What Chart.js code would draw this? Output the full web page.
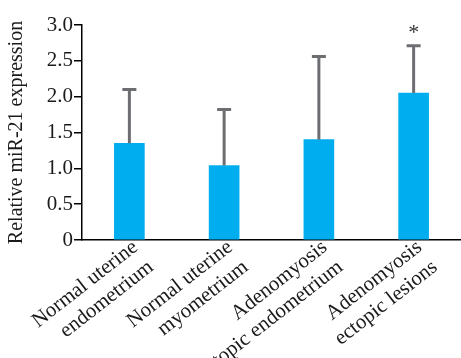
<!DOCTYPE html>
<html>
<head>
<meta charset="utf-8">
<script src="https://cdn.jsdelivr.net/npm/chart.js@4"></script>
<style>
  html, body { margin: 0; padding: 0; background: #fff; overflow: hidden; }
  #wrap { width: 461px; height: 358px; }
</style>
</head>
<body>
<div id="wrap"><canvas id="chart"></canvas></div>
<script>
// data
const groups = [
    ['Normal uterine', 'endometrium'],
    ['Normal uterine', 'myometrium'],
    ['Adenomyosis', 'eutopic endometrium'],
    ['Adenomyosis', 'ectopic lesions']
];
const means = [1.35, 1.04, 1.40, 2.05];
const upperErr = [2.10, 1.82, 2.56, 2.71];
const marks = ['', '', '', '*'];
const yTicks = [0, 0.5, 1.0, 1.5, 2.0, 2.5, 3.0];

const serif = '"Liberation Serif", "DejaVu Serif", serif';

// upper error bars + significance marks
const errorBars = {
    id: 'errorBars',
    afterDatasetsDraw(chart) {
        const ctx = chart.ctx;
        const y = chart.scales.y;
        const meta = chart.getDatasetMeta(0);
        ctx.save();
        ctx.strokeStyle = '#6d6e71';
        ctx.lineWidth = 3;
        meta.data.forEach((bar, i) => {
            const top = y.getPixelForValue(upperErr[i]);
            ctx.beginPath();
            ctx.moveTo(bar.x, bar.y);
            ctx.lineTo(bar.x, top);
            ctx.moveTo(bar.x - 7, top);
            ctx.lineTo(bar.x + 7, top);
            ctx.stroke();
            if (marks[i]) {
                ctx.fillStyle = '#333';
                ctx.font = '22px ' + serif;
                ctx.textAlign = 'center';
                ctx.textBaseline = 'bottom';
                ctx.fillText(marks[i], bar.x, top - 2);
            }
        });
        ctx.restore();
    }
};

new Chart(document.getElementById('chart'), {
    type: 'bar',
    data: {
        labels: groups,
        datasets: [{
            data: means,
            backgroundColor: '#00aeef',
            barThickness: 30
        }]
    },
    options: {
        responsive: true,
        maintainAspectRatio: false,
        animation: false,
        layout: { padding: { top: 25, right: 0 } },
        plugins: {
            legend: { display: false },
            tooltip: { enabled: false }
        },
        scales: {
            x: {
                grid: { display: false, drawTicks: false },
                border: { display: true, color: '#000', width: 1.5 },
                ticks: {
                    color: '#1a1a1a',
                    font: { family: serif, size: 21 },
                    maxRotation: 38,
                    minRotation: 38,
                    padding: -5,
                    labelOffset: 6
                },
                afterFit: s => { s.height = 118; }
            },
            y: {
                min: 0,
                max: 3,
                afterBuildTicks: s => { s.ticks = yTicks.map(v => ({ value: v })); },
                grid: {
                    display: true,
                    drawOnChartArea: false,
                    drawTicks: true,
                    tickLength: 8,
                    color: '#000',
                    lineWidth: 1.5
                },
                border: { display: true, color: '#000', width: 1.5 },
                ticks: {
                    color: '#1a1a1a',
                    font: { family: serif, size: 21 },
                    padding: 1,
                    callback: v => v === 0 ? '0' : v.toFixed(1)
                },
                title: {
                    display: true,
                    text: 'Relative miR-21 expression',
                    color: '#1a1a1a',
                    font: { family: serif, size: 20 },
                    padding: { top: 5, bottom: 0 }
                },
                afterFit: s => { s.width = 82; }
            }
        }
    },
    plugins: [errorBars]
});
</script>
</body>
</html>
